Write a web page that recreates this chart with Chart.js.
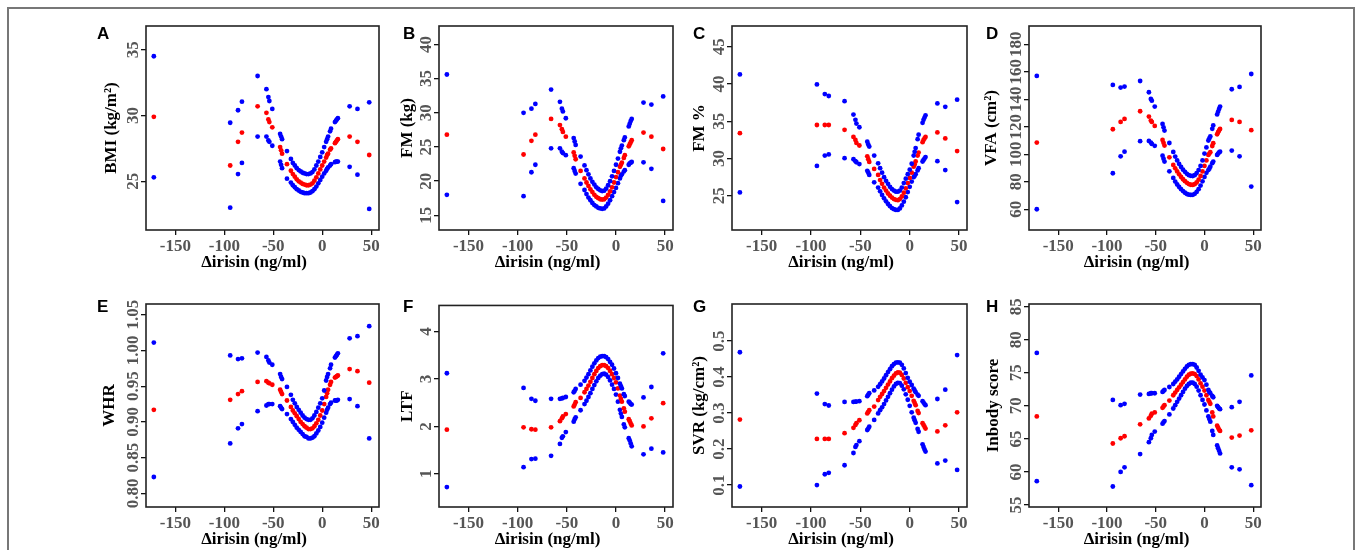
<!DOCTYPE html>
<html>
<head>
<meta charset="utf-8">
<script src="https://cdn.jsdelivr.net/npm/chart.js@4/dist/chart.umd.min.js"></script>
<style>
body { margin: 0; background: #fff; width: 1358px; height: 550px; overflow: hidden; position: relative; }
#frame { position: absolute; left: 7px; top: 7px; width: 1344px; height: 620px; border: 2px solid #777; }
.letter { position: absolute; font: bold 17px "Liberation Sans", Arial, sans-serif; line-height: 17px; color: #000; }
canvas { position: absolute; }
</style>
</head>
<body>
<div id="frame"></div>
<script>
// change in irisin (x) - shared by every panel
var irisin = [-172, -94, -86, -82, -66, -57, -55, -54, -51, -43, -42, -41, -36, -32, -30, -28, -26, -24, -22, -20,
  -18, -16, -14, -12, -10, -8, -6, -4, -2, 0, 2, 4, 5, 6, 8, 9, 13, 14, 15, 16, 28, 36, 48];

// A - BMI
var bmiUpper = [34.5, 29.45, 30.4, 31.05, 33.0, 32.0, 31.4, 31.1, 30.5, 28.6, 28.4, 28.2, 27.3, 26.7, 26.4, 26.2, 26.0, 25.85, 25.75, 25.65,
  25.6, 25.55, 25.55, 25.6, 25.7, 25.9, 26.2, 26.5, 26.85, 27.2, 27.6, 28.0, 28.2, 28.4, 28.8, 29.0, 29.5, 29.6, 29.7, 29.8, 30.7, 30.5, 31.0];
var bmiFit = [29.9, 26.2, 28.0, 28.7, 30.7, 30.2, 29.7, 29.5, 29.1, 27.6, 27.35, 27.1, 26.3, 25.8, 25.55, 25.35, 25.15, 25.0, 24.9, 24.8,
  24.75, 24.7, 24.7, 24.75, 24.85, 25.05, 25.3, 25.6, 25.9, 26.2, 26.5, 26.8, 27.0, 27.1, 27.4, 27.5, 27.9, 28.0, 28.1, 28.2, 28.4, 28.0, 27.0];
var bmiLower = [25.3, 23.0, 25.55, 26.4, 28.4, 28.4, 28.1, 28.0, 27.7, 26.5, 26.25, 26.0, 25.2, 24.9, 24.7, 24.55, 24.4, 24.3, 24.2, 24.15,
  24.1, 24.1, 24.1, 24.15, 24.25, 24.4, 24.6, 24.85, 25.1, 25.35, 25.6, 25.8, 25.95, 26.05, 26.2, 26.3, 26.45, 26.5, 26.5, 26.5, 26.1, 25.5, 22.9];

// B - FM (kg)
var fmUpper = [35.6, 30.0, 30.6, 31.3, 33.4, 31.6, 30.6, 30.2, 29.2, 26.3, 25.8, 25.3, 23.6, 22.3, 21.6, 21.0, 20.4, 19.9, 19.5, 19.1,
  18.85, 18.65, 18.55, 18.6, 18.9, 19.4, 20.0, 20.7, 21.5, 22.4, 23.3, 24.3, 24.8, 25.2, 26.0, 26.4, 28.0, 28.4, 28.8, 29.1, 31.5, 31.2, 32.4];
var fmFit = [26.8, 23.9, 25.9, 26.8, 29.1, 28.2, 27.6, 27.2, 26.5, 24.2, 23.7, 23.2, 21.5, 20.4, 19.8, 19.3, 18.8, 18.4, 18.0, 17.7,
  17.5, 17.35, 17.3, 17.35, 17.6, 18.0, 18.5, 19.1, 19.8, 20.6, 21.3, 22.1, 22.4, 22.7, 23.4, 23.8, 25.1, 25.4, 25.7, 26.0, 27.1, 26.5, 24.7];
var fmLower = [18.0, 17.8, 21.3, 22.4, 24.8, 24.8, 24.3, 24.1, 23.8, 21.9, 21.5, 21.1, 19.6, 18.7, 18.1, 17.6, 17.2, 16.8, 16.5, 16.3,
  16.1, 16.0, 15.95, 16.0, 16.3, 16.7, 17.2, 17.8, 18.4, 19.0, 19.7, 20.4, 20.8, 21.0, 21.4, 21.6, 22.4, 22.6, 22.7, 22.8, 22.75, 21.8, 17.1];

// C - FM %
var fmpUpper = [41.3, 39.95, 38.65, 38.4, 37.7, 35.9, 35.2, 34.7, 34.2, 32.25, 31.9, 31.6, 30.4, 29.35, 28.7, 28.1, 27.5, 27.0, 26.6, 26.2,
  25.9, 25.7, 25.55, 25.55, 25.7, 26.1, 26.7, 27.3, 27.9, 28.5, 29.3, 30.4, 30.9, 31.4, 32.6, 33.2, 34.8, 35.2, 35.5, 35.8, 37.4, 36.95, 37.9];
var fmpFit = [33.4, 34.5, 34.5, 34.5, 33.85, 32.9, 32.5, 32.1, 31.75, 30.3, 29.9, 29.55, 28.6, 27.8, 27.1, 26.6, 26.1, 25.7, 25.3, 25.0,
  24.75, 24.55, 24.45, 24.4, 24.55, 24.9, 25.4, 26.0, 26.7, 27.4, 28.1, 28.9, 29.2, 29.6, 30.4, 30.8, 32.2, 32.5, 32.7, 32.9, 33.5, 32.7, 31.0];
var fmpLower = [25.45, 29.0, 30.4, 30.55, 30.05, 29.9, 29.65, 29.5, 29.25, 28.35, 28.1, 27.8, 26.8, 26.1, 25.6, 25.1, 24.65, 24.25, 23.9, 23.6,
  23.35, 23.2, 23.1, 23.1, 23.3, 23.7, 24.2, 24.8, 25.5, 26.2, 26.9, 27.5, 27.7, 27.9, 28.4, 28.7, 29.6, 29.8, 30.0, 30.2, 29.65, 28.45, 24.15];

// D - VFA
var vfaUpper = [157.0, 150.4, 148.5, 149.2, 153.3, 145.1, 140.2, 139.0, 134.7, 122.1, 119.6, 117.2, 108.2, 101.7, 98.3, 95.5, 93.0, 90.8, 88.8, 87.2,
  85.8, 84.8, 84.3, 84.2, 84.8, 86.3, 88.5, 91.5, 95.5, 100.5, 105.0, 110.0, 111.5, 113.0, 118.5, 121.0, 129.0, 131.0, 133.0, 134.7, 147.3, 149.0, 158.4];
var vfaFit = [108.5, 118.2, 123.5, 125.7, 131.3, 127.4, 124.5, 123.5, 120.6, 110.4, 108.3, 106.3, 97.8, 92.2, 89.8, 87.5, 85.4, 83.5, 81.8, 80.4,
  79.2, 78.3, 77.8, 77.7, 78.2, 79.5, 81.5, 84.2, 87.5, 91.5, 95.5, 99.5, 100.5, 101.5, 106.0, 108.0, 114.5, 116.0, 117.3, 118.4, 125.0, 123.5, 117.5];
var vfaLower = [60.0, 86.2, 98.5, 101.9, 109.5, 109.7, 108.5, 107.5, 106.1, 99.0, 96.8, 94.7, 87.6, 82.8, 80.1, 78.0, 76.2, 74.6, 73.2, 72.0,
  71.1, 70.6, 70.4, 70.5, 71.2, 72.6, 74.6, 77.2, 80.3, 83.5, 86.5, 88.5, 89.5, 91.0, 93.5, 94.7, 99.5, 100.5, 101.3, 101.9, 102.7, 98.5, 76.5];

// E - WHR
var whrUpper = [1.011, 0.993, 0.988, 0.989, 0.997, 0.991, 0.986, 0.983, 0.980, 0.967, 0.963, 0.960, 0.949, 0.938, 0.931, 0.926, 0.921, 0.917, 0.913, 0.909,
  0.906, 0.904, 0.903, 0.903, 0.905, 0.909, 0.914, 0.920, 0.926, 0.933, 0.944, 0.958, 0.963, 0.967, 0.975, 0.980, 0.990, 0.992, 0.994, 0.996, 1.017, 1.020, 1.034];
var whrFit = [0.917, 0.931, 0.939, 0.943, 0.956, 0.957, 0.955, 0.954, 0.952, 0.945, 0.942, 0.939, 0.930, 0.921, 0.916, 0.912, 0.908, 0.904, 0.900, 0.897,
  0.894, 0.892, 0.890, 0.890, 0.891, 0.894, 0.898, 0.903, 0.909, 0.916, 0.925, 0.935, 0.940, 0.945, 0.952, 0.956, 0.962, 0.963, 0.964, 0.965, 0.974, 0.971, 0.955];
var whrLower = [0.823, 0.870, 0.891, 0.897, 0.915, 0.923, 0.925, 0.925, 0.925, 0.922, 0.920, 0.918, 0.911, 0.904, 0.900, 0.896, 0.892, 0.889, 0.886, 0.883,
  0.880, 0.879, 0.877, 0.877, 0.878, 0.880, 0.884, 0.888, 0.893, 0.899, 0.906, 0.913, 0.917, 0.920, 0.925, 0.927, 0.930, 0.930, 0.930, 0.931, 0.932, 0.922, 0.877];

// F - LTF
var ltfUpper = [3.12, 2.81, 2.58, 2.54, 2.58, 2.58, 2.59, 2.60, 2.62, 2.72, 2.75, 2.79, 2.88, 2.96, 3.03, 3.10, 3.18, 3.26, 3.33, 3.39,
  3.44, 3.47, 3.48, 3.48, 3.46, 3.42, 3.36, 3.30, 3.22, 3.12, 3.02, 2.90, 2.85, 2.80, 2.68, 2.64, 2.52, 2.50, 2.47, 2.46, 2.61, 2.83, 3.54];
var ltfFit = [1.93, 1.98, 1.94, 1.93, 1.98, 2.11, 2.17, 2.21, 2.26, 2.42, 2.46, 2.51, 2.60, 2.72, 2.79, 2.86, 2.94, 3.02, 3.10, 3.17,
  3.23, 3.27, 3.29, 3.29, 3.27, 3.23, 3.17, 3.10, 3.02, 2.93, 2.80, 2.65, 2.58, 2.52, 2.38, 2.31, 2.15, 2.11, 2.06, 2.02, 2.00, 2.17, 2.49];
var ltfLower = [0.72, 1.14, 1.31, 1.32, 1.38, 1.63, 1.76, 1.79, 1.88, 2.10, 2.15, 2.19, 2.34, 2.47, 2.54, 2.62, 2.70, 2.79, 2.87, 2.95,
  3.02, 3.07, 3.10, 3.11, 3.09, 3.04, 2.97, 2.88, 2.79, 2.67, 2.52, 2.35, 2.27, 2.20, 2.04, 1.98, 1.75, 1.70, 1.64, 1.58, 1.41, 1.53, 1.45];

// G - SVR
var svrUpper = [0.469, 0.354, 0.325, 0.321, 0.331, 0.331, 0.332, 0.332, 0.333, 0.347, 0.351, 0.355, 0.363, 0.373, 0.380, 0.388, 0.396, 0.405, 0.414, 0.422,
  0.430, 0.436, 0.440, 0.441, 0.440, 0.434, 0.424, 0.411, 0.398, 0.387, 0.378, 0.368, 0.363, 0.358, 0.351, 0.348, 0.333, 0.329, 0.325, 0.322, 0.339, 0.365, 0.461];
var svrFit = [0.282, 0.228, 0.228, 0.228, 0.244, 0.259, 0.267, 0.272, 0.280, 0.299, 0.303, 0.308, 0.318, 0.336, 0.345, 0.353, 0.361, 0.370, 0.379, 0.388,
  0.397, 0.404, 0.410, 0.413, 0.412, 0.406, 0.396, 0.384, 0.372, 0.361, 0.348, 0.334, 0.328, 0.322, 0.306, 0.300, 0.272, 0.267, 0.262, 0.257, 0.249, 0.266, 0.302];
var svrLower = [0.096, 0.100, 0.130, 0.134, 0.155, 0.189, 0.206, 0.211, 0.222, 0.253, 0.257, 0.262, 0.281, 0.299, 0.308, 0.316, 0.325, 0.335, 0.345, 0.355,
  0.365, 0.374, 0.381, 0.384, 0.383, 0.376, 0.366, 0.352, 0.337, 0.320, 0.302, 0.287, 0.280, 0.273, 0.256, 0.248, 0.213, 0.206, 0.199, 0.193, 0.160, 0.168, 0.142];

// H - Inbody score
var inbodyUpper = [78.0, 70.9, 70.1, 70.3, 71.7, 71.8, 71.9, 71.9, 71.9, 72.1, 72.25, 72.4, 72.85, 73.3, 73.65, 74.0, 74.4, 74.8, 75.2, 75.6,
  75.95, 76.2, 76.3, 76.3, 76.2, 75.8, 75.3, 74.7, 74.3, 73.9, 73.2, 72.4, 72.1, 71.9, 71.5, 71.3, 70.0, 69.8, 69.6, 69.5, 69.8, 70.6, 74.6];
var inbodyFit = [68.4, 64.3, 65.1, 65.4, 67.2, 68.1, 68.5, 68.8, 69.0, 69.7, 69.9, 70.1, 70.8, 71.6, 72.0, 72.4, 72.8, 73.2, 73.6, 74.0,
  74.4, 74.7, 74.85, 74.9, 74.8, 74.5, 74.0, 73.4, 72.9, 72.3, 71.6, 70.9, 70.6, 70.3, 69.0, 68.4, 67.0, 66.7, 66.4, 66.2, 65.2, 65.5, 66.3];
var inbodyLower = [58.6, 57.8, 60.0, 60.7, 62.7, 64.5, 65.1, 65.6, 66.1, 67.3, 67.5, 67.7, 68.7, 69.6, 70.1, 70.6, 71.1, 71.6, 72.1, 72.6,
  73.0, 73.3, 73.5, 73.5, 73.3, 72.9, 72.3, 71.6, 70.9, 70.2, 69.3, 68.4, 68.0, 67.6, 66.2, 65.6, 64.0, 63.6, 63.2, 62.8, 60.7, 60.4, 58.0];

var panelLetters = ['A', 'B', 'C', 'D', 'E', 'F', 'G', 'H'];
var yTitles = ['BMI (kg/m²)', 'FM (kg)', 'FM %', 'VFA (cm²)', 'WHR', 'LTF', 'SVR (kg/cm²)', 'Inbody score'];
var xTitle = 'Δirisin (ng/ml)';
var xTicks = [-150, -100, -50, 0, 50];
var yTicks = [
  [25, 30, 35],
  [15, 20, 25, 30, 35, 40],
  [25, 30, 35, 40, 45],
  [60, 80, 100, 120, 140, 160, 180],
  [0.80, 0.85, 0.90, 0.95, 1.00, 1.05],
  [1, 2, 3, 4],
  [0.1, 0.2, 0.3, 0.4, 0.5],
  [55, 60, 65, 70, 75, 80, 85]
];
var yDecimals = [0, 0, 0, 0, 2, 0, 1, 0];
var yMin = [21.3, 12.85, 20.4, 44.9, 0.781, 0.30, 0.039, 54.7];
var yMax = [36.8, 42.7, 47.8, 193.3, 1.065, 4.55, 0.603, 85.4];

var series = [
  [bmiUpper, bmiFit, bmiLower],
  [fmUpper, fmFit, fmLower],
  [fmpUpper, fmpFit, fmpLower],
  [vfaUpper, vfaFit, vfaLower],
  [whrUpper, whrFit, whrLower],
  [ltfUpper, ltfFit, ltfLower],
  [svrUpper, svrFit, svrLower],
  [inbodyUpper, inbodyFit, inbodyLower]
];

// plot-box geometry (page px)
var colLeft = [146, 439, 732, 1029];
var colRight = [379, 673, 967, 1261];
var rowTop = [26, 304];
var rowBottom = [230, 507];
var yTitleGap = [34, 31, 32, 37, 36, 31, 32, 35];
var letterLeft = [97, 403, 693, 986];
var letterTop = [25, 298];

var serif = '"Liberation Serif", "Times New Roman", serif';
var tickFont = { family: serif, size: 17, weight: 'bold' };
var titleFont = { family: serif, size: 17, weight: 'bold' };

var boxPlugin = {
  id: 'box',
  afterDraw: function(chart) {
    var a = chart.chartArea, c = chart.ctx;
    c.save();
    c.strokeStyle = '#222';
    c.lineWidth = 1.6;
    c.strokeRect(a.left, a.top, a.right - a.left, a.bottom - a.top);
    c.restore();
  }
};

function toPoints(values) {
  return values.map(function(v, k) { return { x: irisin[k], y: v }; });
}

function makePanel(i) {
  var col = i % 4, row = Math.floor(i / 4);
  var l = colLeft[col], r = colRight[col], t = rowTop[row], b = rowBottom[row];
  var yW = 56, xH = 48, padT = 12, padR = 16;

  var canvas = document.createElement('canvas');
  canvas.width = yW + (r - l) + padR;
  canvas.height = padT + (b - t) + xH;
  canvas.style.left = (l - yW) + 'px';
  canvas.style.top = (t - padT) + 'px';
  document.body.appendChild(canvas);

  var letter = document.createElement('div');
  letter.className = 'letter';
  letter.textContent = panelLetters[i];
  letter.style.left = letterLeft[col] + 'px';
  letter.style.top = letterTop[row] + 'px';
  document.body.appendChild(letter);

  var labels = yTicks[i].map(function(v) { return v.toFixed(yDecimals[i]); });

  // rotated labels are centred with crossAlign 'center', which shifts by half the text width
  var ctx = canvas.getContext('2d');
  ctx.font = 'bold 17px ' + serif;
  var widest = Math.max.apply(null, labels.map(function(s) { return ctx.measureText(s).width; }));

  var tickGrid = { display: true, drawOnChartArea: false, drawTicks: true, tickLength: 5, color: '#111', lineWidth: 1.3 };

  new Chart(ctx, {
    type: 'scatter',
    data: {
      datasets: [
        { data: toPoints(series[i][0]), backgroundColor: '#0000ff' },
        { data: toPoints(series[i][1]), backgroundColor: '#ff0000' },
        { data: toPoints(series[i][2]), backgroundColor: '#0000ff' }
      ]
    },
    options: {
      responsive: false,
      animation: false,
      events: [],
      devicePixelRatio: 1,
      layout: { padding: { left: 0, top: padT, right: padR, bottom: 0 } },
      elements: { point: { radius: 2.4, hoverRadius: 2.4, borderWidth: 0 } },
      plugins: { legend: { display: false }, tooltip: { enabled: false } },
      scales: {
        x: {
          type: 'linear',
          min: -180,
          max: 58,
          bounds: 'data',
          afterBuildTicks: function(s) { s.ticks = xTicks.map(function(v) { return { value: v }; }); },
          afterFit: function(s) { s.height = xH; },
          grid: tickGrid,
          border: { display: false },
          ticks: {
            font: tickFont, color: '#555', padding: 1, autoSkip: false, maxRotation: 0,
            callback: function(v) { return String(v); }
          },
          // trailing spaces nudge the centred title a little left, as in the original
          title: { display: true, text: xTitle + '    ', font: titleFont, color: '#000', padding: { top: 0, bottom: 5 } }
        },
        y: {
          type: 'linear',
          min: yMin[i],
          max: yMax[i],
          bounds: 'data',
          afterBuildTicks: function(s) { s.ticks = yTicks[i].map(function(v) { return { value: v }; }); },
          afterFit: function(s) { s.width = yW; },
          grid: tickGrid,
          border: { display: false },
          ticks: {
            font: tickFont, color: '#555', autoSkip: false,
            minRotation: 90, maxRotation: 90, crossAlign: 'center',
            padding: 7.5 - widest / 2,
            callback: function(v, k) { return labels[k]; }
          },
          title: {
            display: true, text: yTitles[i], font: titleFont, color: '#000',
            padding: { top: yW - yTitleGap[i] - 10.2, bottom: 0 }
          }
        }
      }
    },
    plugins: [boxPlugin]
  });
}

for (var i = 0; i < 8; i++) {
  makePanel(i);
}
</script>
</body>
</html>
